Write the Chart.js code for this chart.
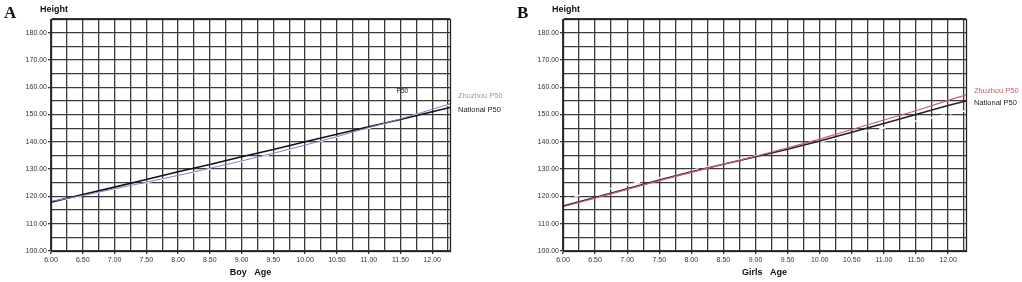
<!DOCTYPE html>
<html>
<head>
<meta charset="utf-8">
<script src="https://cdn.jsdelivr.net/npm/chart.js@4.4.0/dist/chart.umd.min.js"></script>
<style>
  html, body { margin: 0; padding: 0; background: #fff; }
  body { width: 1022px; height: 282px; position: relative; overflow: hidden; }
  .panel { position: absolute; top: 0; width: 511px; height: 282px; }
</style>
</head>
<body>
<div class="panel" style="left:0"><canvas id="chartA"></canvas></div>
<div class="panel" style="left:511px"><canvas id="chartB"></canvas></div>
<script>
// ─── Data ───
const ages = [6, 6.5, 7, 7.5, 8, 8.5, 9, 9.5, 10, 10.5, 11, 11.5, 12, 12.28];

const boyNational = [117.9, 120.7, 123.4, 126.2, 129.0, 131.7, 134.5, 137.2, 140.0, 142.8, 145.5, 148.2, 151.0, 152.6];
const boyZhuzhou  = [118.2, 120.3, 122.8, 125.2, 127.7, 130.3, 133.0, 135.8, 138.8, 141.9, 145.2, 148.4, 151.9, 153.9];
const boyP50      = [118.0, 120.2, 122.6, 125.0, 127.5, 130.1, 132.8, 135.6, 138.6, 141.8, 145.0, 148.3, 151.7, 153.6];

const girlNational = [116.5, 119.6, 122.8, 126.0, 129.0, 131.8, 134.5, 137.3, 140.3, 143.5, 146.7, 150.0, 153.3, 155.0];
const girlZhuzhou  = [116.2, 119.4, 122.6, 125.8, 128.8, 131.8, 134.7, 137.8, 141.0, 144.5, 148.0, 151.4, 155.2, 157.2];
const girlP50      = [119.0, 121.6, 124.2, 126.8, 129.5, 132.1, 134.8, 137.4, 140.0, 142.6, 145.1, 147.6, 150.1, 151.4];

const xTitleBoy = 'Boy   Age';
const xTitleGirl = 'Girls   Age';

Chart.defaults.font.family = "'Liberation Sans', Arial, sans-serif";
Chart.defaults.color = '#333';

const isHalf = v => Math.abs(v * 2 - Math.round(v * 2)) < 1e-6;
const isTen = v => Math.abs(v / 10 - Math.round(v / 10)) < 1e-6;
const GRID = '#3a3a3a';

// frame, end labels, titles
const decor = {
  id: 'decor',
  afterDraw(chart, args, opts) {
    const { ctx, chartArea: a } = chart;
    ctx.save();
    ctx.strokeStyle = '#222';
    ctx.lineWidth = 1.3;
    ctx.strokeRect(Math.round(a.left) + 0.5, Math.round(a.top) + 0.5, Math.round(a.right - a.left), Math.round(a.bottom - a.top));

    // line-end labels
    ctx.textBaseline = 'middle';
    ctx.textAlign = 'left';
    chart.data.datasets.forEach((ds, i) => {
      if (!ds.endLabel) return;
      const pts = chart.getDatasetMeta(i).data;
      const p = pts[pts.length - 1];
      ctx.fillStyle = ds.endLabelColor;
      ctx.font = "7.5px 'Liberation Sans', Arial, sans-serif";
      ctx.fillText(ds.endLabel, p.x + 8, p.y + ds.endLabelDy);
    });

    if (opts.p50Label) {
      const xs = chart.scales.x, ys = chart.scales.y;
      ctx.fillStyle = '#111';
      ctx.textAlign = 'center';
      ctx.font = "6.5px 'Liberation Sans', Arial, sans-serif";
      ctx.fillText('P50', xs.getPixelForValue(11.53), ys.getPixelForValue(158.4));
    }

    // "Height" axis caption
    ctx.fillStyle = '#111';
    ctx.textAlign = 'left';
    ctx.font = "bold 9px 'Liberation Sans', Arial, sans-serif";
    ctx.fillText('Height', a.left - 11, 10);

    // panel letter
    ctx.font = "bold 17px 'Liberation Serif', 'Times New Roman', serif";
    ctx.textBaseline = 'alphabetic';
    ctx.fillText(opts.letter, opts.letterX, 18);
    ctx.restore();
  }
};

function makeChart(id, cfg) {
  return new Chart(document.getElementById(id), {
    type: 'line',
    data: { datasets: cfg.datasets },
    options: {
      responsive: true, maintainAspectRatio: false, animation: false, devicePixelRatio: 1,
      layout: { padding: { left: cfg.padLeft, right: cfg.padRight, top: 19, bottom: 0 } },
      plugins: {
        legend: { display: false }, tooltip: { enabled: false },
        decor: { letter: cfg.letter, letterX: cfg.letterX, p50Label: cfg.p50Label }
      },
      elements: { point: { radius: 0 }, line: { tension: 0 } },
      scales: {
        x: {
          type: 'linear', min: 6, max: 12.28,
          afterFit: s => { s.height = 31; },
          ticks: {
            stepSize: 0.25, includeBounds: false, autoSkip: false, maxRotation: 0, padding: 2,
            font: { size: 7 }, color: '#333',
            callback: v => isHalf(v) ? v.toFixed(2) : ''
          },
          grid: { color: GRID, lineWidth: 1.3, tickLength: 3, tickColor: c => (c.tick && isHalf(c.tick.value)) ? GRID : 'rgba(0,0,0,0)' },
          border: { color: '#222' },
          title: { display: true, text: cfg.xTitle, color: '#111', font: { size: 9, weight: 'bold' }, padding: { top: 0, bottom: 4 } }
        },
        y: {
          min: 100, max: 185,
          afterFit: s => { s.width = 40; },
          ticks: {
            stepSize: 5, autoSkip: false, padding: 1, font: { size: 7 }, color: '#333',
            callback: v => isTen(v) ? v.toFixed(2) : ''
          },
          grid: { color: GRID, lineWidth: 1.3, tickLength: 3, tickColor: c => (c.tick && isTen(c.tick.value)) ? GRID : 'rgba(0,0,0,0)' },
          border: { color: '#222' }
        }
      }
    },
    plugins: [decor]
  });
}

const pts = arr => ages.map((a, i) => ({ x: a, y: arr[i] }));

// ─── A: boys ───
makeChart('chartA', {
  padLeft: 11, padRight: 61, letter: 'A', letterX: 4, p50Label: true, xTitle: xTitleBoy,
  datasets: [
    { label: 'P50', data: pts(boyP50), borderColor: '#ffffff', borderWidth: 1.6, borderDash: [7, 5], order: 3 },
    { label: 'Zhuzhou P50', data: pts(boyZhuzhou), borderColor: '#7e80c8', borderWidth: 1, order: 1,
      endLabel: 'Zhuzhou P50', endLabelColor: '#999', endLabelDy: -8 },
    { label: 'National P50', data: pts(boyNational), borderColor: '#111', borderWidth: 1.6, order: 2,
      endLabel: 'National P50', endLabelColor: '#222', endLabelDy: 3 }
  ]
});

// ─── B: girls ───
makeChart('chartB', {
  padLeft: 12, padRight: 56, letter: 'B', letterX: 6, p50Label: false, xTitle: xTitleGirl,
  datasets: [
    { label: 'P50', data: pts(girlP50), borderColor: '#ffffff', borderWidth: 1.6, borderDash: [7, 5], order: 3 },
    { label: 'National P50', data: pts(girlNational), borderColor: '#222', borderWidth: 1.5, order: 2,
      endLabel: 'National P50', endLabelColor: '#222', endLabelDy: 2 },
    { label: 'Zhuzhou P50', data: pts(girlZhuzhou), borderColor: '#c8606a', borderWidth: 1.2, order: 1,
      endLabel: 'Zhuzhou P50', endLabelColor: '#d05a64', endLabelDy: -4 }
  ]
});
</script>
</body>
</html>
